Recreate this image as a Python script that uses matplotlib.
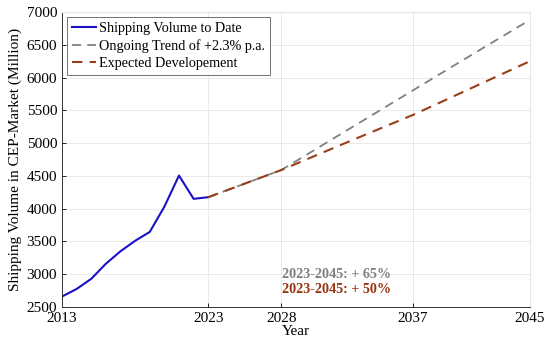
import matplotlib
matplotlib.use("Agg")
import matplotlib.pyplot as plt

# values
years_hist = [2013, 2014, 2015, 2016, 2017, 2018, 2019, 2020, 2021, 2022, 2023]
volume_hist = [2660, 2775, 2930, 3160, 3350, 3510, 3645, 4030, 4505, 4150, 4175]

years_trend = [2023, 2028, 2033, 2037, 2041, 2045]
volume_trend = [4175, 4590, 5265, 5805, 6345, 6880]

years_expect = [2023, 2028, 2033, 2037, 2041, 2045]
volume_expect = [4175, 4590, 5060, 5430, 5840, 6250]

xticks = [2013, 2023, 2028, 2037, 2045]
yticks = [2500, 3000, 3500, 4000, 4500, 5000, 5500, 6000, 6500, 7000]

plt.rcParams['font.family'] = ['Liberation Serif', 'DejaVu Serif']

fig = plt.figure(figsize=(5.5, 3.48), dpi=100)
ax = fig.add_axes([0.1127, 0.1178, 0.8509, 0.8477])

ax.plot(years_hist, volume_hist, color='#1a10c8', linewidth=1.5,
        label='Shipping Volume to Date')
ax.plot(years_trend, volume_trend, color='#808080', linewidth=1.3,
        linestyle=(0, (5, 3.5)), label='Ongoing Trend of +2.3% p.a.')
ax.plot(years_expect, volume_expect, color='#9a3d1a', linewidth=1.5,
        linestyle=(0, (5, 3.5)), label='Expected Developement')

ax.set_xlim(2013, 2045)
ax.set_ylim(2500, 7000)
ax.set_xticks(xticks)
ax.set_yticks(yticks)
ax.tick_params(direction='in', length=3, labelsize=11, width=0.6)
ax.grid(color='#e6e6e6', linewidth=0.6)
ax.set_axisbelow(True)
for s in ['top', 'right']:
    ax.spines[s].set_color('#e6e6e6')
for s in ['left', 'bottom']:
    ax.spines[s].set_color('#333333')
    ax.spines[s].set_linewidth(0.7)

ax.set_xlabel('Year', fontsize=11, labelpad=0)
ax.set_ylabel('Shipping Volume in CEP-Market (Million)', fontsize=11, labelpad=3)

ax.text(2028.05, 2990, '2023-2045: + 65%', color='#808080', fontsize=10.2,
        fontweight='bold', va='center')
ax.text(2028.05, 2765, '2023-2045: + 50%', color='#993311', fontsize=10.2,
        fontweight='bold', va='center')

leg = ax.legend(loc='upper left', fontsize=10.2, frameon=True, fancybox=False,
                borderpad=0.35, handlelength=1.7, handletextpad=0.2,
                labelspacing=0.3, borderaxespad=0.35)
leg.get_frame().set_edgecolor('#333333')
leg.get_frame().set_linewidth(0.6)

fig.savefig('out.png', dpi=100)
